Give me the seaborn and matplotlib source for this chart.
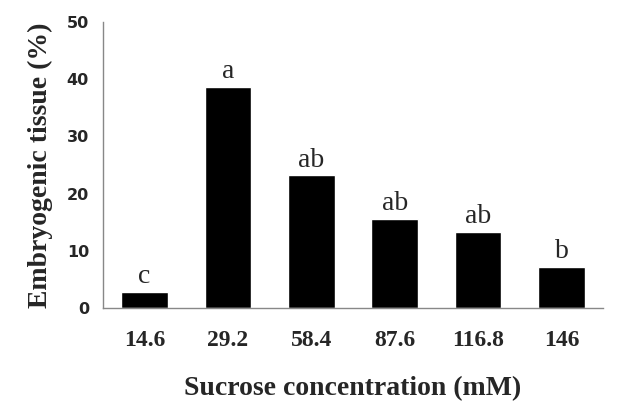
import pandas as pd
import matplotlib
matplotlib.use('Agg')
import matplotlib.pyplot as plt
import seaborn as sns

# dados
concentracao = ['14.6', '29.2', '58.4', '87.6', '116.8', '146']
tecido = [2.8, 38.6, 23.2, 15.6, 13.3, 7.2]
letras = ['c', 'a', 'ab', 'ab', 'ab', 'b']

df = pd.DataFrame({'conc': concentracao, 'tecido': tecido})

sns.set_style('white')
fig = plt.figure(figsize=(6.27, 4.07), dpi=100)
ax = fig.add_axes([0.164, 0.243, 0.798, 0.703])

sns.barplot(x='conc', y='tecido', data=df, color='black', width=0.56,
            saturation=1, ax=ax)

# letras de significância acima das barras
for i, (v, l) in enumerate(zip(tecido, letras)):
    ax.annotate(l, (i, v), xytext=(0, 2), textcoords='offset points',
                ha='center', va='bottom', fontsize=20, family='Liberation Serif')

ax.set_xlim(-0.5, 5.5)
ax.set_ylim(0, 50)
ax.set_yticks([0, 10, 20, 30, 40, 50])
ax.set_yticklabels(['0', '10', '20', '30', '40', '50'],
                   fontweight='bold', family='DejaVu Sans', fontsize=11.5)
ax.set_xticks(range(len(concentracao)))
ax.set_xticklabels(concentracao, fontweight='bold', family='Liberation Serif',
                   fontsize=17)
ax.set_xticks([0.5, 1.5, 2.5, 3.5, 4.5, 5.5], minor=True)
ax.tick_params(axis='x', which='major', length=0, pad=16)
ax.tick_params(axis='x', which='minor', length=4, color='#888888', direction='out')
ax.tick_params(axis='y', length=4, color='#888888', direction='out', pad=6)

for s in ['top', 'right']:
    ax.spines[s].set_visible(False)
for s in ['left', 'bottom']:
    ax.spines[s].set_color('#888888')
    ax.spines[s].set_linewidth(1)

ax.set_xlabel('Sucrose concentration (mM)', fontweight='bold',
              family='Liberation Serif', fontsize=20, labelpad=18)
ax.set_ylabel('Embryogenic tissue (%)', fontweight='bold',
              family='Liberation Serif', fontsize=20, labelpad=10)

plt.savefig('out.png', dpi=100)
